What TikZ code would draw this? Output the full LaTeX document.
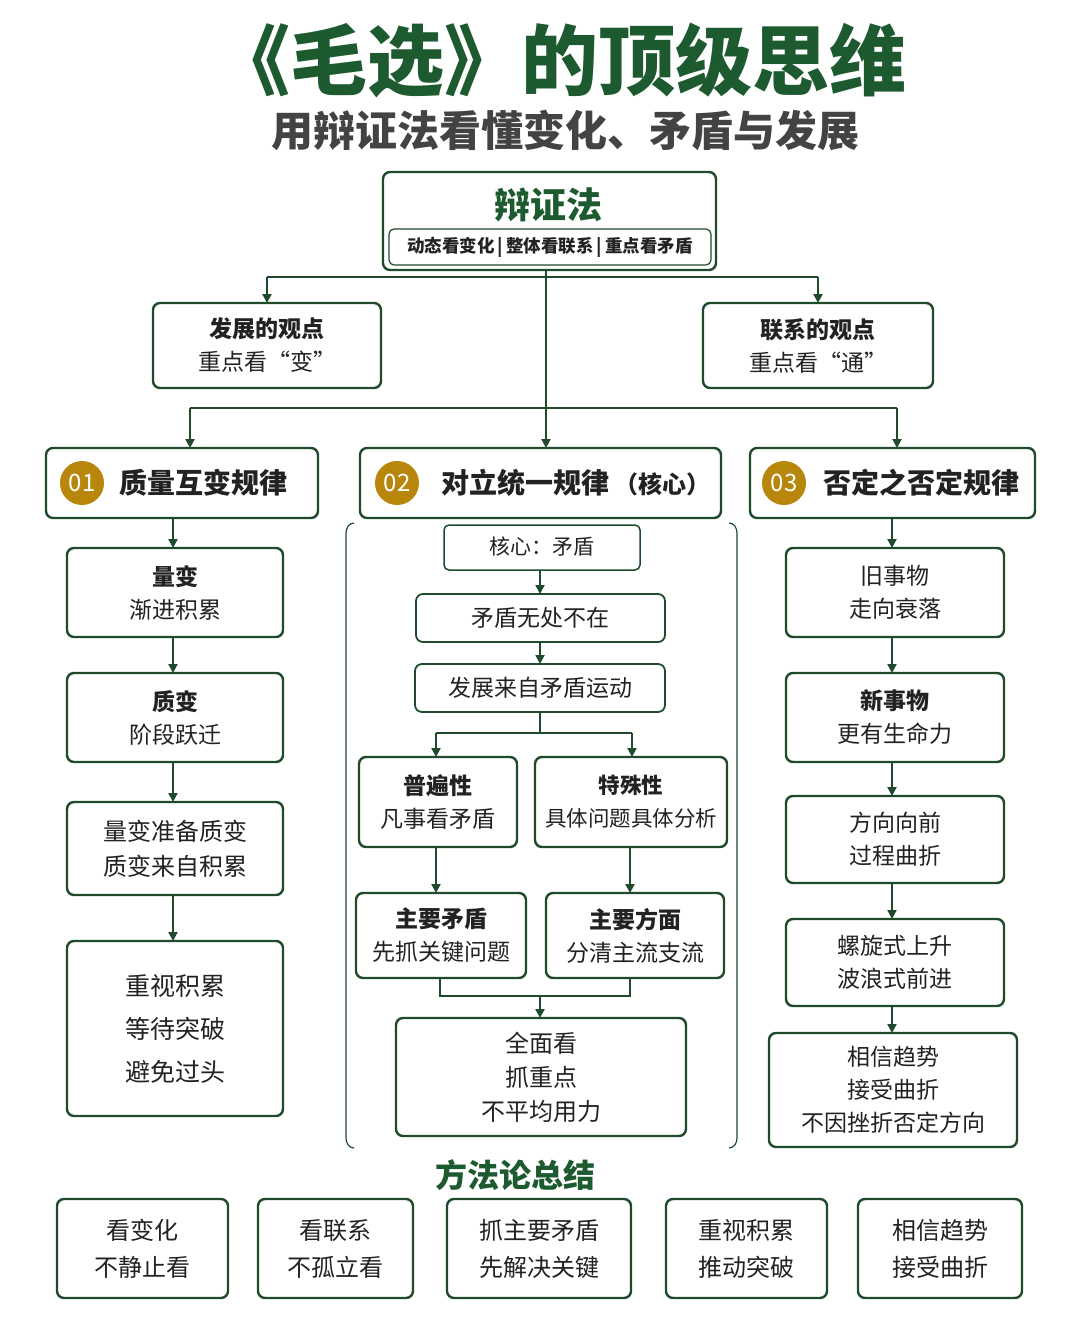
\documentclass[tikz,border=0pt]{standalone}
\usepackage{fontspec}
\setmainfont{Noto Sans CJK SC}
\usetikzlibrary{arrows.meta}
\definecolor{dg}{HTML}{1F4A2C}
\definecolor{tg}{HTML}{1D5A30}
\definecolor{gold}{HTML}{B8860B}
\definecolor{tx}{HTML}{222222}
\begin{document}
\begin{tikzpicture}[x=1pt,y=-1pt,
 bx/.style={draw=dg,line width=2.4pt,rounded corners=7pt,fill=white},
 ar/.style={draw=dg,line width=2.4pt,-{Triangle[length=9pt,width=9pt]}},
 ln/.style={draw=dg,line width=2.4pt},
 t/.style={font=\fontsize{23}{33}\selectfont,text=tx,align=center},
 hd/.style={font=\fontsize{28}{34}\selectfont\bfseries,text=tx,anchor=west},
 bd/.style={circle,fill=gold,minimum size=44pt,inner sep=0pt,text=white,font=\fontsize{24}{24}\selectfont}]
\useasboundingbox (0,0) rectangle (1069,1335);
\fill[white] (0,0) rectangle (1069,1335);
\newcommand\bb[5]{\draw[bx] (#2,#3) rectangle (#4,#5); \coordinate (#1) at ({(#2+#4)/2},{(#3+#5)/2});}
% title
\node[font=\fontsize{77}{80}\selectfont\bfseries,text=tg] (ti) at (560,60) {《毛选》的顶级思维};
\node[font=\fontsize{42}{46}\selectfont\bfseries,text=tx!85] (st) at (565,130) {用辩证法看懂变化、矛盾与发展};
% top
\bb{top}{383}{172}{716}{270}
\node[font=\fontsize{36}{40}\selectfont\bfseries,text=tg] (toptx) at (548,205) {辩证法};
\draw[draw=dg,line width=1.2pt,rounded corners=5pt] (389,229) rectangle (711,265);
\node[font=\fontsize{17.5}{18}\selectfont\bfseries,text=tx] (topsub) at (550,247) {动态看变化\,|\,整体看联系\,|\,重点看矛盾};
\coordinate (j1) at (546,277); \coordinate (j1l) at (267,277); \coordinate (j1r) at (818,277);
\draw[ln] (546,270) -- (j1); \draw[ln] (j1l) -- (j1r);
\bb{fz}{153}{303}{381}{388} \node[t] at (fz) {\textbf{发展的观点}\\重点看“变”};
\bb{lx}{703}{303}{933}{388} \node[t] at (lx) {\textbf{联系的观点}\\重点看“通”};
\draw[ar] (j1l) -- (267,303); \draw[ar] (j1r) -- (818,303);
\coordinate (j2l) at (190,408); \coordinate (j2r) at (897,408);
\draw[ln] (j2l) -- (j2r);
\draw[ar] (j1) -- (546,448); \draw[ar] (j2l) -- (190,448); \draw[ar] (j2r) -- (897,448);
% headers
\bb{h1}{46}{448}{318}{518} \node[bd] (b1) at (82,483) {01}; \node[hd] at (116,483) {质量互变规律};
\bb{h2}{360}{448}{721}{518} \node[bd] (b2) at (397,483) {02}; \node[hd] at (438,483) {对立统一规律\,{\fontsize{24}{24}\selectfont（核心）}};
\bb{h3}{750}{448}{1035}{518} \node[bd] (b3) at (784,483) {03}; \node[hd] at (820,483) {否定之否定规律};
% left column
\bb{l1}{67}{548}{283}{637} \node[t] at (l1) {\textbf{量变}\\渐进积累};
\bb{l2}{67}{673}{283}{762} \node[t] at (l2) {\textbf{质变}\\阶段跃迁};
\bb{l3}{67}{802}{283}{895} \node[t,font=\fontsize{24}{35}\selectfont] at (l3) {量变准备质变\\质变来自积累};
\bb{l4}{67}{941}{283}{1116} \node[t,font=\fontsize{25}{43}\selectfont] at (l4) {重视积累\\等待突破\\避免过头};
\draw[ar] (173,518) -- (173,548); \draw[ar] (173,637) -- (173,673);
\draw[ar] (173,762) -- (173,802); \draw[ar] (173,895) -- (173,941);
% middle bracket
\draw[draw=dg,line width=1.2pt] (354,523) to[out=180,in=90] (346,533) -- (346,1138) to[out=-90,in=180] (354,1148);
\draw[draw=dg,line width=1.2pt] (729,523) to[out=0,in=90] (737,533) -- (737,1138) to[out=-90,in=0] (729,1148);
\draw[bx,line width=1.5pt,rounded corners=5pt] (444,525) rectangle (640,570); \coordinate (m0) at (542,547);
\node[t,font=\fontsize{21}{24}\selectfont] at (m0) {核心：矛盾};
\draw[bx,line width=1.8pt] (416,594) rectangle (665,642); \node[t] (m1) at (540,618) {矛盾无处不在};
\draw[bx,line width=1.8pt] (415,664) rectangle (665,712); \node[t] (m2) at (540,688) {发展来自矛盾运动};
\draw[ar,line width=1.8pt] (540,570) -- (540,594); \draw[ar,line width=1.8pt] (540,642) -- (540,664);
\coordinate (j3) at (540,733);
\draw[ln] (540,712) -- (j3); \draw[ln] (436,733) -- (632,733);
\draw[ar] (436,733) -- (436,757); \draw[ar] (632,733) -- (632,757);
\bb{pb}{359}{757}{517}{847} \node[t] at (pb) {\textbf{普遍性}\\凡事看矛盾};
\bb{ts}{535}{757}{727}{847} \node[t,font=\fontsize{21.5}{33}\selectfont] at (ts) {\textbf{特殊性}\\具体问题具体分析};
\draw[ar] (436,847) -- (436,893); \draw[ar] (630,847) -- (630,893);
\bb{zm}{356}{893}{526}{978} \node[t] at (zm) {\textbf{主要矛盾}\\先抓关键问题};
\bb{zf}{546}{893}{724}{978} \node[t] at (zf) {\textbf{主要方面}\\分清主流支流};
\draw[ln] (440,978) -- (440,996) -- (630,996) -- (630,978);
\draw[ar] (540,996) -- (540,1018);
\bb{qm}{396}{1018}{686}{1136} \node[t,font=\fontsize{24}{34}\selectfont] at (qm) {全面看\\抓重点\\不平均用力};
% right column
\bb{r1}{786}{548}{1004}{637} \node[t] at (r1) {旧事物\\走向衰落};
\bb{r2}{786}{673}{1004}{762} \node[t] at (r2) {\textbf{新事物}\\更有生命力};
\bb{r3}{786}{796}{1004}{883} \node[t] at (r3) {方向向前\\过程曲折};
\bb{r4}{786}{919}{1004}{1006} \node[t] at (r4) {螺旋式上升\\波浪式前进};
\bb{r5}{769}{1033}{1017}{1147} \node[t,font=\fontsize{23}{33}\selectfont] at (r5) {相信趋势\\接受曲折\\不因挫折否定方向};
\draw[ar] (892,518) -- (892,548); \draw[ar] (892,637) -- (892,673);
\draw[ar] (892,762) -- (892,796); \draw[ar] (892,883) -- (892,919);
\draw[ar] (892,1006) -- (892,1033);
% bottom
\node[font=\fontsize{32}{34}\selectfont\bfseries,text=tg] (ff) at (515,1175) {方法论总结};
\bb{s1}{57}{1199}{228}{1298} \node[t,font=\fontsize{24}{37}\selectfont] at (s1) {看变化\\不静止看};
\bb{s2}{258}{1199}{413}{1298} \node[t,font=\fontsize{24}{37}\selectfont] at (s2) {看联系\\不孤立看};
\bb{s3}{447}{1199}{631}{1298} \node[t,font=\fontsize{24}{37}\selectfont] at (s3) {抓主要矛盾\\先解决关键};
\bb{s4}{666}{1199}{827}{1298} \node[t,font=\fontsize{24}{37}\selectfont] at (s4) {重视积累\\推动突破};
\bb{s5}{858}{1199}{1022}{1298} \node[t,font=\fontsize{24}{37}\selectfont] at (s5) {相信趋势\\接受曲折};
\end{tikzpicture}
\end{document}
